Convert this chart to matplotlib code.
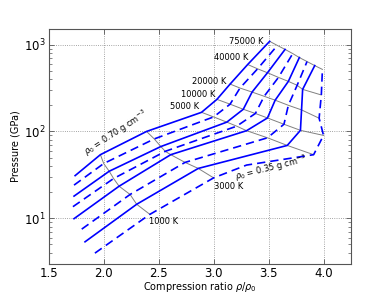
import matplotlib
matplotlib.use("Agg")
import matplotlib.pyplot as plt
import numpy as np

# initial densities (g/cc)
rho0 = [0.70, 0.65, 0.60, 0.55, 0.50, 0.45, 0.40, 0.35]
temps = ["start", 1000, 3000, 5000, 10000, 20000, 40000, 75000]

# compression ratio per density (rows) at each temperature (cols)
comp = [
    [1.74, 1.97, 2.39, 2.89, 3.03, 3.15, 3.31, 3.51],
    [1.73, 2.00, 2.46, 3.00, 3.15, 3.24, 3.40, 3.58],
    [1.73, 2.05, 2.52, 3.12, 3.27, 3.35, 3.49, 3.65],
    [1.72, 2.09, 2.56, 3.21, 3.38, 3.46, 3.59, 3.72],
    [1.73, 2.14, 2.61, 3.30, 3.49, 3.56, 3.68, 3.78],
    [1.80, 2.24, 2.74, 3.49, 3.64, 3.68, 3.76, 3.85],
    [1.83, 2.30, 2.86, 3.67, 3.79, 3.80, 3.81, 3.92],
    [1.92, 2.42, 3.00, 3.91, 4.00, 3.96, 3.98, 3.99],
]
# pressure (GPa)
pres = [
    [31.0, 54.0, 100, 166, 234, 351, 590, 1090],
    [24.1, 42.7, 82, 147, 206, 316, 526, 977],
    [18.0, 34.8, 67, 128, 180, 284, 474, 880],
    [13.6, 28.7, 59, 115, 161, 254, 419, 788],
    [9.9, 23.4, 54, 102, 143, 229, 377, 709],
    [7.5, 18.8, 44, 84.5, 121, 200, 340, 638],
    [5.36, 14.5, 37.5, 69, 103, 177, 305, 573],
    [3.97, 11.1, 29.2, 54, 90, 142, 263, 518],
]
# extra (unlabelled) point on the 0.35 g/cc curve between 3000 K and 5000 K
extra_comp_035 = 3.30
extra_pres_035 = 41.0

xticks = [1.5, 2.0, 2.5, 3.0, 3.5, 4.0]

fig = plt.figure(figsize=(3.9, 2.93), dpi=100)
ax = fig.add_axes([0.125, 0.1, 0.775, 0.8])

comp_a = np.array(comp)
pres_a = np.array(pres)

# isotherms (gray)
for j in range(1, len(temps)):
    ax.plot(comp_a[:, j], pres_a[:, j], color="#808080", lw=0.7, zorder=2)

# Hugoniots (blue)
for i, r in enumerate(rho0):
    ls = "-" if i % 2 == 0 else (0, (5, 3))
    xs = list(comp_a[i])
    ys = list(pres_a[i])
    if r == 0.35:
        xs.insert(3, extra_comp_035)
        ys.insert(3, extra_pres_035)
    ax.plot(xs, ys, color="#0000ff", lw=1.2, ls=ls, zorder=3)

ax.set_yscale("log")
ax.set_xlim(1.5, 4.25)
ax.set_ylim(3, 1500)
ax.set_xticks(xticks)
ax.set_xticklabels([f"{t:.1f}" for t in xticks])
ax.grid(True, color="#888888", ls=":", lw=0.6)
ax.tick_params(direction="in", top=True, right=True, labelsize=8.5, width=0.6,
               color="#555555", pad=2.5)
ax.tick_params(which="minor", direction="in", right=True, width=0.5, color="#555555")
for s in ax.spines.values():
    s.set_color("#555555")
    s.set_linewidth(0.8)
ax.set_xlabel("Compression ratio $\\rho/\\rho_0$", fontsize=7, labelpad=0)
ax.set_ylabel("Pressure (GPa)", fontsize=7, labelpad=2)

# temperature labels
fs = 6.0
tlabels = ["75000 K", "40000 K", "20000 K", "10000 K", "5000 K"]
tlx = [3.455, 3.318, 3.112, 3.015, 2.870]
tly = [1092, 709, 380, 267, 193]
for s, x, y in zip(tlabels, tlx, tly):
    ax.text(x, y, s, fontsize=fs, ha="right", va="center")
ax.text(3.0, 23, "3000 K", fontsize=fs, ha="left", va="center")
ax.text(2.409, 9.3, "1000 K", fontsize=fs, ha="left", va="center")
ax.text(1.864, 48, "$\\rho_0$ = 0.70 g cm$^{-3}$", fontsize=fs, rotation=33,
        ha="left", va="bottom", rotation_mode="anchor")
ax.text(3.21, 24.5, "$\\rho_0$ = 0.35 g cm$^{-3}$", fontsize=fs, rotation=14,
        ha="left", va="bottom", rotation_mode="anchor")

fig.savefig("out.png", dpi=100)
